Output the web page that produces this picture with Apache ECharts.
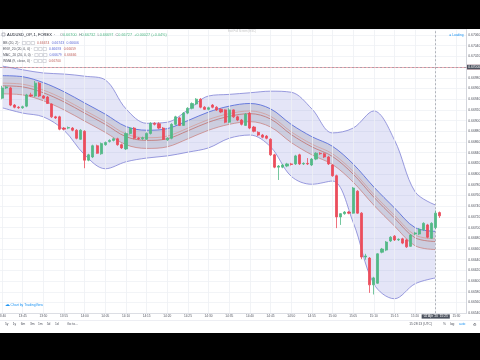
<!DOCTYPE html>
<html>
<head>
<meta charset="utf-8">
<script src="https://cdn.jsdelivr.net/npm/echarts@6/dist/echarts.min.js"></script>
<style>
html,body{margin:0;padding:0;background:#000;overflow:hidden}
#chart{width:480px;height:360px}
</style>
</head>
<body>
<div id="chart"></div>
<script>
// ---------------- data ----------------
const times = ['13:40','13:41','13:42','13:43','13:44','13:45','13:46','13:47','13:48','13:49',
'13:50','13:51','13:52','13:53','13:54','13:55','13:56','13:57','13:58','13:59',
'14:00','14:01','14:02','14:03','14:04','14:05','14:06','14:07','14:08','14:09',
'14:10','14:11','14:12','14:13','14:14','14:15','14:16','14:17','14:18','14:19',
'14:20','14:21','14:22','14:23','14:24','14:25','14:26','14:27','14:28','14:29',
'14:30','14:31','14:32','14:33','14:34','14:35','14:36','14:37','14:38','14:39',
'14:40','14:41','14:42','14:43','14:44','14:45','14:46','14:47','14:48','14:49',
'14:50','14:51','14:52','14:53','14:54','14:55','14:56','14:57','14:58','14:59',
'15:00','15:01','15:02','15:03','15:04','15:05','15:06','15:07','15:08','15:09',
'15:10','15:11','15:12','15:13','15:14','15:15','15:16','15:17','15:18','15:19',
'15:20','15:21','15:22','15:23','15:24','15:25','15:26','15:27','15:28','15:29',
'15:30','15:31','15:32'];

const xTickLabels = ['13:40','13:45','13:50','13:55','14:00','14:05','14:10','14:15','14:20','14:25',
'14:30','14:35','14:40','14:45','14:50','14:55','15:00','15:05','15:10','15:15','15:20','15:25','15:30'];

// [open, close, low, high]
const candles = [
[0.66942,0.66961,0.66940,0.66965],[0.66961,0.66963,0.66959,0.66965],[0.66961,0.66929,0.66927,0.66963],
[0.66929,0.66925,0.66923,0.66931],[0.66925,0.66924,0.66922,0.66927],[0.66924,0.66926,0.66922,0.66928],
[0.66927,0.66948,0.66925,0.66950],[0.66948,0.66946,0.66944,0.66952],[0.66946,0.66970,0.66944,0.66974],
[0.66970,0.66946,0.66944,0.66972],[0.66946,0.66942,0.66940,0.66948],[0.66944,0.66932,0.66931,0.66946],
[0.66931,0.66907,0.66905,0.66932],[0.66907,0.66905,0.66903,0.66909],[0.66907,0.66884,0.66882,0.66909],
[0.66886,0.66884,0.66882,0.66888],[0.66886,0.66887,0.66884,0.66889],[0.66886,0.66882,0.66880,0.66888],
[0.66882,0.66867,0.66865,0.66884],[0.66865,0.66882,0.66864,0.66884],[0.66880,0.66826,0.66811,0.66882],
[0.66826,0.66836,0.66824,0.66838],[0.66832,0.66853,0.66830,0.66855],[0.66853,0.66839,0.66838,0.66855],
[0.66838,0.66857,0.66836,0.66859],[0.66855,0.66859,0.66853,0.66861],[0.66861,0.66863,0.66859,0.66865],
[0.66863,0.66866,0.66861,0.66868],[0.66866,0.66855,0.66853,0.66868],[0.66855,0.66849,0.66847,0.66857],
[0.66847,0.66876,0.66845,0.66878],[0.66876,0.66886,0.66874,0.66888],[0.66886,0.66867,0.66865,0.66888],
[0.66867,0.66866,0.66864,0.66869],[0.66866,0.66868,0.66864,0.66870],[0.66865,0.66876,0.66864,0.66878],
[0.66876,0.66895,0.66874,0.66897],[0.66895,0.66893,0.66891,0.66897],[0.66894,0.66886,0.66884,0.66897],
[0.66886,0.66865,0.66864,0.66888],[0.66864,0.66867,0.66862,0.66869],[0.66867,0.66893,0.66865,0.66895],
[0.66893,0.66907,0.66891,0.66909],[0.66905,0.66891,0.66890,0.66907],[0.66891,0.66914,0.66890,0.66916],
[0.66914,0.66923,0.66912,0.66925],[0.66923,0.66932,0.66921,0.66934],[0.66931,0.66940,0.66929,0.66942],
[0.66940,0.66925,0.66923,0.66942],[0.66925,0.66921,0.66920,0.66927],[0.66921,0.66924,0.66919,0.66926],
[0.66929,0.66925,0.66923,0.66931],[0.66925,0.66920,0.66918,0.66927],[0.66921,0.66916,0.66914,0.66923],
[0.66920,0.66897,0.66895,0.66921],[0.66897,0.66920,0.66895,0.66923],[0.66920,0.66907,0.66905,0.66921],
[0.66907,0.66901,0.66899,0.66909],[0.66901,0.66893,0.66891,0.66903],[0.66891,0.66912,0.66890,0.66914],
[0.66914,0.66886,0.66884,0.66916],[0.66888,0.66880,0.66878,0.66890],[0.66878,0.66873,0.66871,0.66880],
[0.66873,0.66869,0.66867,0.66875],[0.66871,0.66867,0.66865,0.66873],[0.66865,0.66836,0.66834,0.66867],
[0.66836,0.66813,0.66811,0.66838],[0.66813,0.66815,0.66789,0.66817],[0.66813,0.66817,0.66811,0.66819],
[0.66815,0.66819,0.66813,0.66821],[0.66819,0.66818,0.66816,0.66821],[0.66819,0.66834,0.66817,0.66836],
[0.66836,0.66819,0.66817,0.66838],[0.66819,0.66820,0.66817,0.66822],[0.66820,0.66819,0.66817,0.66830],
[0.66817,0.66828,0.66815,0.66830],[0.66828,0.66839,0.66826,0.66841],[0.66839,0.66838,0.66836,0.66841],
[0.66838,0.66832,0.66830,0.66840],[0.66832,0.66819,0.66817,0.66834],[0.66817,0.66797,0.66795,0.66819],
[0.66797,0.66720,0.66699,0.66799],[0.66720,0.66726,0.66705,0.66727],[0.66726,0.66729,0.66724,0.66731],
[0.66729,0.66727,0.66725,0.66731],[0.66727,0.66774,0.66726,0.66776],[0.66768,0.66727,0.66726,0.66770],
[0.66727,0.66645,0.66641,0.66729],[0.66645,0.66647,0.66640,0.66651],[0.66643,0.66593,0.66578,0.66645],
[0.66593,0.66606,0.66575,0.66608],[0.66596,0.66651,0.66595,0.66652],[0.66654,0.66660,0.66652,0.66662],
[0.66658,0.66673,0.66656,0.66675],[0.66675,0.66682,0.66673,0.66684],[0.66684,0.66677,0.66675,0.66686],
[0.66677,0.66678,0.66675,0.66680],[0.66679,0.66671,0.66669,0.66681],[0.66677,0.66664,0.66662,0.66679],
[0.66665,0.66686,0.66664,0.66688],[0.66688,0.66690,0.66686,0.66692],[0.66688,0.66697,0.66686,0.66699],
[0.66696,0.66708,0.66694,0.66710],[0.66705,0.66682,0.66680,0.66707],[0.66680,0.66708,0.66679,0.66710],
[0.66700,0.66727,0.66697,0.66732],[0.66728,0.66722,0.66718,0.66730]
];

// indicator lines, read every 5 bars
const bandTimes = ['13:40','13:45','13:50','13:55','14:00','14:05','14:10','14:15','14:20','14:25','14:30',
'14:35','14:40','14:45','14:50','14:55','15:00','15:05','15:10','15:15','15:20','15:25'];
const bbUpper = [0.67002,0.66995,0.66989,0.66987,0.66983,0.66976,0.66922,0.66895,0.66897,0.66920,0.66946,
0.66949,0.66952,0.66955,0.66953,0.66922,0.66877,0.66886,0.66918,0.66864,0.66767,0.66742];
const bbBasis = [0.66965,0.66963,0.66952,0.66935,0.66914,0.66893,0.66870,0.66863,0.66866,0.66881,0.66897,
0.66908,0.66913,0.66903,0.66874,0.66851,0.66833,0.66800,0.66757,0.66718,0.66681,0.66674];
const bbLower = [0.66924,0.66914,0.66907,0.66882,0.66836,0.66810,0.66823,0.66830,0.66834,0.66841,0.66849,
0.66867,0.66873,0.66851,0.66796,0.66781,0.66787,0.66710,0.66595,0.66567,0.66595,0.66606];
const chUpper = [0.66984,0.66982,0.66971,0.66954,0.66933,0.66912,0.66889,0.66882,0.66885,0.66900,0.66916,
0.66927,0.66932,0.66922,0.66893,0.66870,0.66852,0.66819,0.66776,0.66737,0.66700,0.66693];
const wmaLine = [0.66970,0.66968,0.66957,0.66940,0.66919,0.66898,0.66875,0.66868,0.66871,0.66886,0.66902,
0.66913,0.66918,0.66908,0.66879,0.66856,0.66838,0.66805,0.66762,0.66723,0.66686,0.66679];
const chLower = [0.66950,0.66948,0.66937,0.66920,0.66899,0.66878,0.66855,0.66848,0.66851,0.66866,0.66882,
0.66893,0.66898,0.66888,0.66859,0.66836,0.66818,0.66785,0.66742,0.66703,0.66666,0.66659];

const yMin = 0.6654, yMax = 0.6707, yStep = 0.0002;
const lastPrice = 0.66722;
const crossPrice = 0.67000;
const crossTime = '15:25';
const crossTimeLabel = "02 Apr '20  15:25";

const titleSymbol = 'AUDUSD_OP, 1, FOREX';
const ohlc = [['O','0.66700'],['H','0.66732'],['L','0.66697'],['C','0.66727']];
const change = '+0.00027 (+0.04%)';
const indicatorRows = [
  {name:'BB (20, 2)', values:[['0.66674','#c0645f'],['0.66743','#5d6ad6'],['0.66606','#5d6ad6']]},
  {name:'ENV_20 (20, 0, 0)', values:[['0.66693','#5d6ad6'],['0.66659','#c0645f']]},
  {name:'MAC_20 (20, 0, 0)', values:[['0.66679','#5d6ad6'],['0.66666','#c0645f']]},
  {name:'WMA (9, close, 0)', values:[['0.66700','#c0645f']]}
];
const rangeButtons = ['5y','1y','6m','3m','1m','5d','1d'];
const clockText = '15:28:13 (UTC)';

// ---------------- build ----------------
const F = 'Liberation Sans, Arial, sans-serif';
const tickSet = new Set(xTickLabels);
const pair = arr => bandTimes.map((t,k)=>[t, arr[k]]);
const diff = (a,b) => bandTimes.map((t,k)=>[t, +(a[k]-b[k]).toFixed(6)]);
const SM = 0.35;
const lineS = (arr, color, w) => ({type:'line', data:pair(arr), smooth:SM, symbol:'none',
  lineStyle:{color, width:w}, z:3, silent:true});

const cv = document.createElement('canvas').getContext('2d');
function tw(s, size){ cv.font = size + 'px ' + F; return cv.measureText(s).width; }
const g = [];
function txt(x, y, s, size, color, align){
  g.push({type:'text', x, y, z:60, silent:true,
    style:{text:s, fontSize:size, fontFamily:F, fill:color, align:align||'left', verticalAlign:'middle'}});
}
function box(x, y, w, h, stroke){
  g.push({type:'rect', z:60, silent:true, shape:{x, y, width:w, height:h},
    style:{fill:'none', stroke, lineWidth:0.5}});
}
g.push({type:'rect', z:100, shape:{x:0,y:0,width:480,height:29}, style:{fill:'#000'}});
g.push({type:'rect', z:100, shape:{x:0,y:333,width:480,height:27}, style:{fill:'#000'}});
g.push({type:'line', z:50, shape:{x1:0,y1:320.5,x2:480,y2:320.5}, style:{stroke:'#e0e3eb', lineWidth:0.6}});

// title row
box(2, 33, 3, 3, '#787b86');
txt(7, 34.6, titleSymbol + '  ·', 4, '#131722');
let cx = 60;
ohlc.forEach(([l,v])=>{
  txt(cx, 34.6, l, 3.8, '#787b86'); cx += tw(l,3.8);
  txt(cx, 34.6, v, 3.8, '#53b987'); cx += tw(v,3.8) + 2.2;
});
txt(cx, 34.6, change, 3.8, '#53b987');
txt(242, 31.3, 'Exit Full Screen (ESC)', 2.8, '#c4c4c4', 'center');
txt(463.5, 35, '● Loading', 3.2, '#2196f3', 'right');

// indicator rows
indicatorRows.forEach((r, k)=>{
  const y = 43 + k*6;
  txt(3, y, r.name + ' ·', 3.4, '#50535e');
  let x = 3 + tw(r.name + ' ·', 3.4) + 2;
  for (let j=0;j<3;j++){ box(x, y-1.5, 3.4, 3, '#b2b5be'); x += 4.4; }
  x += 1.5;
  r.values.forEach(([v,c])=>{ txt(x, y, v, 3.4, c); x += tw(v,3.4) + 2.5; });
});

// bottom
txt(4.5, 305, '☁', 4.5, '#2196f3');
txt(10.5, 305, 'Chart by TradingView', 3.4, '#2196f3');
const rx = [5,12.7,20.7,30,38,46.7,55];
rangeButtons.forEach((b,k)=>txt(rx[k], 324.5, b, 3.3, '#50535e'));
txt(67, 324.5, 'Go to...', 3.3, '#50535e');
txt(432, 324.5, clockText, 3.3, '#50535e', 'right');
txt(443, 324.5, '%', 3.3, '#50535e');
txt(450, 324.5, 'log', 3.3, '#50535e');
txt(459, 324.5, 'auto', 3.3, '#2196f3');
txt(473, 324.5, '⚙', 3.8, '#50535e');

const chart = echarts.init(document.getElementById('chart'), null, {renderer:'canvas'});
chart.setOption({
  animation:false,
  backgroundColor:'#ffffff',
  grid:{left:0, right:13.3, top:29.65, bottom:46.8, containLabel:false, outerBoundsMode:'none'},
  xAxis:{type:'category', data:times, boundaryGap:true,
    axisLine:{show:true, lineStyle:{color:'#d6d8de', width:0.8}},
    axisTick:{show:false},
    axisLabel:{interval:(i,v)=>tickSet.has(v), fontSize:3.2, color:'#50535e', margin:1.6, fontFamily:F},
    splitLine:{show:false}},
  yAxis:{type:'value', position:'right', min:yMin, max:yMax, interval:yStep,
    axisLine:{show:true, lineStyle:{color:'#c9ccd4', width:0.8}},
    axisTick:{show:false},
    axisLabel:{fontSize:3.3, color:'#50535e', margin:1.6, fontFamily:F, showMaxLabel:false,
      formatter:v=>v.toFixed(5)},
    splitLine:{show:true, lineStyle:{color:'#eff1f5', width:0.8}}},
  graphic:g,
  series:[
    {type:'line', data:pair(bbLower), stack:'bb', smooth:SM, symbol:'none', lineStyle:{opacity:0}, z:1, silent:true,
      markLine:{silent:true, symbol:['none','none'], label:{show:false},
        lineStyle:{color:'#eef0f4', width:0.8, type:'solid'},
        data:xTickLabels.map(t=>({xAxis:t}))}},
    {type:'line', data:diff(bbUpper,bbLower), stack:'bb', smooth:SM, symbol:'none', lineStyle:{opacity:0},
      areaStyle:{color:'rgba(96,100,210,0.17)', opacity:1}, z:1, silent:true},
    {type:'line', data:pair(chLower), stack:'ch', smooth:SM, symbol:'none', lineStyle:{opacity:0}, z:2, silent:true},
    {type:'line', data:diff(chUpper,chLower), stack:'ch', smooth:SM, symbol:'none', lineStyle:{opacity:0},
      areaStyle:{color:'rgba(110,110,130,0.2)', opacity:1}, z:2, silent:true},
    lineS(bbUpper, '#8083d6', 0.8),
    lineS(bbLower, '#8083d6', 0.8),
    lineS(chUpper, '#4b63d9', 0.8),
    lineS(wmaLine, '#d49791', 0.7),
    lineS(bbBasis, '#c0645f', 0.7),
    lineS(chLower, '#c97a75', 0.7),
    {type:'candlestick', data:candles, barWidth:2.6, z:5, silent:true,
      itemStyle:{color:'#53b987', color0:'#eb4d5c', borderColor:'#53b987', borderColor0:'#eb4d5c', borderWidth:0.8},
      markLine:{silent:true, symbol:['none','none'],
        data:[
          {yAxis:lastPrice, lineStyle:{color:'#eb4d5c', width:0.7, type:'solid', opacity:0.6},
            label:{show:true, position:'end', formatter:lastPrice.toFixed(5), backgroundColor:'#eb4d5c',
              color:'#fff', fontSize:3.3, fontFamily:F, padding:[0.8,1.2], distance:0.3}},
          {yAxis:crossPrice, lineStyle:{color:'#9598a1', width:0.7, type:[2,2]},
            label:{show:true, position:'end', formatter:crossPrice.toFixed(5), backgroundColor:'#4c525e',
              color:'#fff', fontSize:3.3, fontFamily:F, padding:[0.8,1.2], distance:0.3}},
          {xAxis:crossTime, lineStyle:{color:'#9598a1', width:0.7, type:[2,2]},
            label:{show:true, position:'start', formatter:crossTimeLabel, backgroundColor:'#4c525e',
              color:'#fff', fontSize:3.2, fontFamily:F, padding:[0.6,2], distance:1.2}}
        ]}}
  ]
});
</script>
</body>
</html>
